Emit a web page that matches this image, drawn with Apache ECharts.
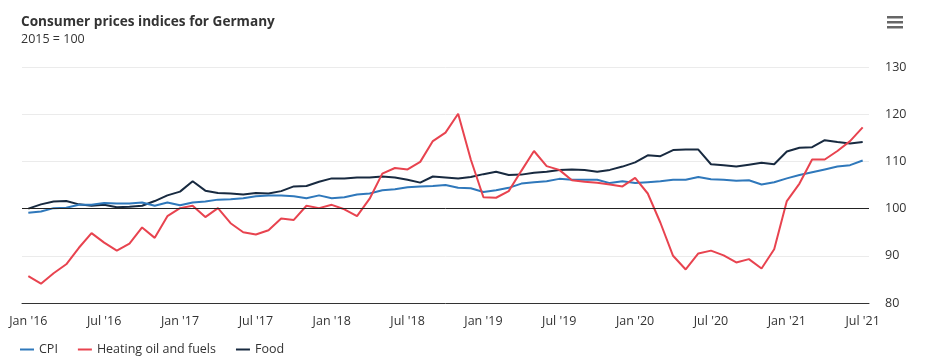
<!DOCTYPE html>
<html><head><meta charset="utf-8">
<script src="https://cdn.jsdelivr.net/npm/echarts@6/dist/echarts.min.js"></script>
<style>html,body{margin:0;padding:0;background:#fff}#c{width:932px;height:364px}</style>
</head><body><div id="c"></div>
<script>
var months = [
"Jan '16","Feb '16","Mar '16","Apr '16","May '16","Jun '16","Jul '16","Aug '16","Sep '16","Oct '16","Nov '16","Dec '16",
"Jan '17","Feb '17","Mar '17","Apr '17","May '17","Jun '17","Jul '17","Aug '17","Sep '17","Oct '17","Nov '17","Dec '17",
"Jan '18","Feb '18","Mar '18","Apr '18","May '18","Jun '18","Jul '18","Aug '18","Sep '18","Oct '18","Nov '18","Dec '18",
"Jan '19","Feb '19","Mar '19","Apr '19","May '19","Jun '19","Jul '19","Aug '19","Sep '19","Oct '19","Nov '19","Dec '19",
"Jan '20","Feb '20","Mar '20","Apr '20","May '20","Jun '20","Jul '20","Aug '20","Sep '20","Oct '20","Nov '20","Dec '20",
"Jan '21","Feb '21","Mar '21","Apr '21","May '21","Jun '21","Jul '21"];

var cpi = [
99.1,99.4,100.1,100.2,100.8,100.8,101.2,101.1,101.1,101.3,100.6,101.3,
100.7,101.3,101.5,101.9,102.0,102.2,102.6,102.8,102.8,102.6,102.2,102.8,
102.2,102.4,103.0,103.2,103.9,104.1,104.5,104.7,104.8,105.0,104.4,104.3,
103.5,103.9,104.4,105.3,105.6,105.8,106.3,106.1,106.1,106.1,105.4,105.8,
105.4,105.6,105.8,106.1,106.1,106.7,106.2,106.1,105.9,106.0,105.1,105.6,
106.4,107.1,107.7,108.3,108.9,109.2,110.2];

var heatingOil = [
85.7,84.1,86.3,88.2,91.7,94.8,92.8,91.1,92.6,96.0,93.8,98.4,
100.1,100.6,98.2,100.1,96.9,95.0,94.5,95.4,97.9,97.6,100.6,100.1,
100.8,99.85,98.4,102.1,107.4,108.6,108.3,109.9,114.3,116.1,120.1,110.4,
102.4,102.3,103.7,108.0,112.2,109.0,108.2,106.0,105.7,105.5,105.1,104.7,
106.5,103.2,97.0,90.0,87.1,90.5,91.1,90.1,88.6,89.3,87.3,91.4,
101.6,105.3,110.4,110.4,112.2,114.3,117.2];

var food = [
100.0,100.9,101.5,101.6,100.9,100.6,100.8,100.3,100.4,100.6,101.6,102.8,
103.6,105.8,103.8,103.3,103.2,103.0,103.3,103.2,103.7,104.7,104.8,105.7,
106.4,106.4,106.6,106.6,106.8,106.6,106.1,105.5,106.8,106.6,106.4,106.7,
107.3,107.8,107.1,107.2,107.6,107.8,108.2,108.3,108.2,107.8,108.2,108.9,
109.8,111.3,111.1,112.4,112.5,112.5,109.4,109.2,108.9,109.3,109.7,109.4,
112.1,112.9,113.0,114.5,114.1,113.8,114.1];

var yTicks = { min: 80, max: 130, step: 10 };
var FONT = "'Open Sans', sans-serif";
var TXT = '#333333';

var chart = echarts.init(document.getElementById('c'), null, {renderer: 'canvas'});
chart.setOption({
  animation: false,
  textStyle: { fontFamily: FONT },
  title: {
    text: 'Consumer prices indices for Germany',
    subtext: '2015 = 100',
    left: 16, top: 10,
    itemGap: 4,
    textStyle: { fontSize: 13.6, fontWeight: 'bold', color: TXT, fontFamily: FONT },
    subtextStyle: { fontSize: 12.5, color: TXT, fontFamily: FONT }
  },
  legend: {
    left: 15, bottom: 3,
    itemGap: 20, itemWidth: 14, itemHeight: 2,
    icon: 'rect',
    textStyle: { fontSize: 12.5, color: TXT, fontFamily: FONT },
    data: ['CPI', 'Heating oil and fuels', 'Food']
  },
  graphic: [
    { type: 'rect', shape: { x: 887, y: 16, width: 16, height: 2.5 }, style: { fill: '#666' } },
    { type: 'rect', shape: { x: 887, y: 21, width: 16, height: 2.5 }, style: { fill: '#666' } },
    { type: 'rect', shape: { x: 887, y: 26, width: 16, height: 2.5 }, style: { fill: '#666' } }
  ],
  grid: { left: 22, right: 63, top: 67, bottom: 61 },
  xAxis: [{
    type: 'category', data: months, boundaryGap: true,
    axisLine: { lineStyle: { color: TXT, width: 1 } },
    axisTick: { alignWithLabel: true, interval: 0, length: 4, lineStyle: { color: TXT } },
    axisLabel: { interval: 5, color: TXT, fontSize: 12.5, margin: 12, fontFamily: FONT },
    splitLine: { show: false }
  }, {
    type: 'category', data: months, boundaryGap: true, position: 'bottom',
    axisLine: { show: false },
    axisTick: { alignWithLabel: true, interval: 5, length: 6, lineStyle: { color: TXT } },
    axisLabel: { show: false }
  }],
  yAxis: {
    type: 'value', position: 'right',
    min: yTicks.min, max: yTicks.max, interval: yTicks.step,
    axisLine: { show: false }, axisTick: { show: false },
    axisLabel: { color: TXT, fontSize: 12.5, margin: 16, fontFamily: FONT },
    splitLine: { lineStyle: { color: '#ebebeb', width: 1 } }
  },
  series: [
    { name: 'CPI', type: 'line', data: cpi, showSymbol: false, symbol: 'none',
      lineStyle: { width: 2, color: '#2f78bb' }, itemStyle: { color: '#2f78bb' }, z: 3,
      markLine: { silent: true, symbol: 'none', label: { show: false },
        lineStyle: { color: '#222', width: 1, type: 'solid' }, data: [{ yAxis: 100 }] } },
    { name: 'Heating oil and fuels', type: 'line', data: heatingOil, showSymbol: false, symbol: 'none',
      lineStyle: { width: 2, color: '#e8434f' }, itemStyle: { color: '#e8434f' }, z: 4 },
    { name: 'Food', type: 'line', data: food, showSymbol: false, symbol: 'none',
      lineStyle: { width: 2, color: '#182a40' }, itemStyle: { color: '#182a40' }, z: 2 }
  ]
});
</script>
</body></html>
